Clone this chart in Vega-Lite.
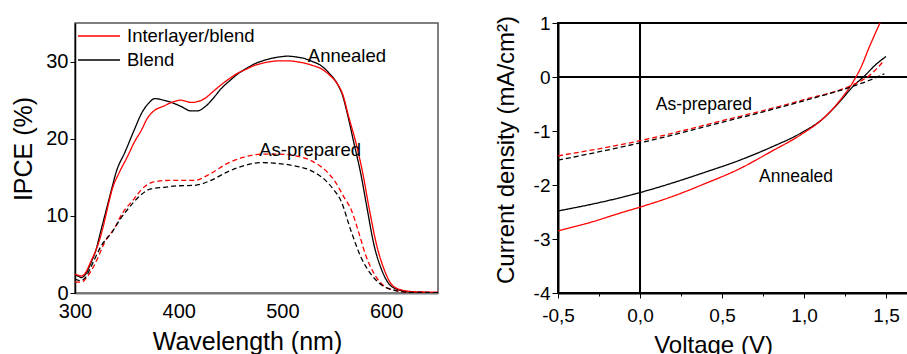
{
  "$schema": "https://vega.github.io/schema/vega-lite/v6.json",
  "autosize": {"type": "pad"},
  "padding": {"left": 11, "top": 13, "right": 0, "bottom": 0},
  "background": "white",
  "config": {
    "font": "Liberation Sans",
    "axis": {"labelColor": "black", "titleColor": "black", "titleFontWeight": "normal", "grid": false, "labelFlush": false, "labelOverlap": false, "tickColor": "black", "domainColor": "black"},
    "text": {"font": "Liberation Sans", "color": "black"}
  },
  "datasets": {
    "ipce": [
      {"wl": 300, "ipce": 2.3, "device": "Blend", "state": "Annealed"},
      {"wl": 303, "ipce": 2.2, "device": "Blend", "state": "Annealed"},
      {"wl": 306, "ipce": 2.0, "device": "Blend", "state": "Annealed"},
      {"wl": 310, "ipce": 2.4, "device": "Blend", "state": "Annealed"},
      {"wl": 315, "ipce": 3.8, "device": "Blend", "state": "Annealed"},
      {"wl": 320, "ipce": 5.5, "device": "Blend", "state": "Annealed"},
      {"wl": 325, "ipce": 8.1, "device": "Blend", "state": "Annealed"},
      {"wl": 330, "ipce": 10.7, "device": "Blend", "state": "Annealed"},
      {"wl": 335, "ipce": 13.3, "device": "Blend", "state": "Annealed"},
      {"wl": 340, "ipce": 15.8, "device": "Blend", "state": "Annealed"},
      {"wl": 348, "ipce": 18.2, "device": "Blend", "state": "Annealed"},
      {"wl": 357, "ipce": 21.1, "device": "Blend", "state": "Annealed"},
      {"wl": 365, "ipce": 23.5, "device": "Blend", "state": "Annealed"},
      {"wl": 371, "ipce": 24.6, "device": "Blend", "state": "Annealed"},
      {"wl": 377, "ipce": 25.2, "device": "Blend", "state": "Annealed"},
      {"wl": 385, "ipce": 25.0, "device": "Blend", "state": "Annealed"},
      {"wl": 393, "ipce": 24.7, "device": "Blend", "state": "Annealed"},
      {"wl": 402, "ipce": 24.2, "device": "Blend", "state": "Annealed"},
      {"wl": 412, "ipce": 23.6, "device": "Blend", "state": "Annealed"},
      {"wl": 418, "ipce": 23.6, "device": "Blend", "state": "Annealed"},
      {"wl": 425, "ipce": 24.1, "device": "Blend", "state": "Annealed"},
      {"wl": 433, "ipce": 25.2, "device": "Blend", "state": "Annealed"},
      {"wl": 441, "ipce": 26.5, "device": "Blend", "state": "Annealed"},
      {"wl": 449, "ipce": 27.5, "device": "Blend", "state": "Annealed"},
      {"wl": 457, "ipce": 28.4, "device": "Blend", "state": "Annealed"},
      {"wl": 465, "ipce": 29.1, "device": "Blend", "state": "Annealed"},
      {"wl": 473, "ipce": 29.7, "device": "Blend", "state": "Annealed"},
      {"wl": 481, "ipce": 30.1, "device": "Blend", "state": "Annealed"},
      {"wl": 489, "ipce": 30.4, "device": "Blend", "state": "Annealed"},
      {"wl": 497, "ipce": 30.6, "device": "Blend", "state": "Annealed"},
      {"wl": 505, "ipce": 30.7, "device": "Blend", "state": "Annealed"},
      {"wl": 513, "ipce": 30.6, "device": "Blend", "state": "Annealed"},
      {"wl": 521, "ipce": 30.4, "device": "Blend", "state": "Annealed"},
      {"wl": 529, "ipce": 30.0, "device": "Blend", "state": "Annealed"},
      {"wl": 537, "ipce": 29.5, "device": "Blend", "state": "Annealed"},
      {"wl": 545, "ipce": 28.5, "device": "Blend", "state": "Annealed"},
      {"wl": 553, "ipce": 27.1, "device": "Blend", "state": "Annealed"},
      {"wl": 558, "ipce": 25.6, "device": "Blend", "state": "Annealed"},
      {"wl": 563, "ipce": 23.0, "device": "Blend", "state": "Annealed"},
      {"wl": 569, "ipce": 19.4, "device": "Blend", "state": "Annealed"},
      {"wl": 575.5, "ipce": 15.5, "device": "Blend", "state": "Annealed"},
      {"wl": 582, "ipce": 10.7, "device": "Blend", "state": "Annealed"},
      {"wl": 588, "ipce": 6.4, "device": "Blend", "state": "Annealed"},
      {"wl": 596, "ipce": 2.9, "device": "Blend", "state": "Annealed"},
      {"wl": 604, "ipce": 1.0, "device": "Blend", "state": "Annealed"},
      {"wl": 614, "ipce": 0.35, "device": "Blend", "state": "Annealed"},
      {"wl": 627, "ipce": 0.1, "device": "Blend", "state": "Annealed"},
      {"wl": 650, "ipce": 0.05, "device": "Blend", "state": "Annealed"},

      {"wl": 300, "ipce": 2.4, "device": "Interlayer/blend", "state": "Annealed"},
      {"wl": 303, "ipce": 2.3, "device": "Interlayer/blend", "state": "Annealed"},
      {"wl": 306, "ipce": 2.2, "device": "Interlayer/blend", "state": "Annealed"},
      {"wl": 310, "ipce": 2.6, "device": "Interlayer/blend", "state": "Annealed"},
      {"wl": 315, "ipce": 4.0, "device": "Interlayer/blend", "state": "Annealed"},
      {"wl": 322, "ipce": 6.2, "device": "Interlayer/blend", "state": "Annealed"},
      {"wl": 327, "ipce": 8.5, "device": "Interlayer/blend", "state": "Annealed"},
      {"wl": 331.5, "ipce": 11.1, "device": "Interlayer/blend", "state": "Annealed"},
      {"wl": 336, "ipce": 13.5, "device": "Interlayer/blend", "state": "Annealed"},
      {"wl": 343, "ipce": 15.7, "device": "Interlayer/blend", "state": "Annealed"},
      {"wl": 351, "ipce": 17.8, "device": "Interlayer/blend", "state": "Annealed"},
      {"wl": 357, "ipce": 19.5, "device": "Interlayer/blend", "state": "Annealed"},
      {"wl": 364, "ipce": 21.1, "device": "Interlayer/blend", "state": "Annealed"},
      {"wl": 370, "ipce": 22.7, "device": "Interlayer/blend", "state": "Annealed"},
      {"wl": 377, "ipce": 23.7, "device": "Interlayer/blend", "state": "Annealed"},
      {"wl": 385, "ipce": 24.2, "device": "Interlayer/blend", "state": "Annealed"},
      {"wl": 393, "ipce": 24.7, "device": "Interlayer/blend", "state": "Annealed"},
      {"wl": 402, "ipce": 25.0, "device": "Interlayer/blend", "state": "Annealed"},
      {"wl": 412, "ipce": 24.7, "device": "Interlayer/blend", "state": "Annealed"},
      {"wl": 418, "ipce": 24.8, "device": "Interlayer/blend", "state": "Annealed"},
      {"wl": 425, "ipce": 25.2, "device": "Interlayer/blend", "state": "Annealed"},
      {"wl": 433, "ipce": 26.1, "device": "Interlayer/blend", "state": "Annealed"},
      {"wl": 441, "ipce": 27.0, "device": "Interlayer/blend", "state": "Annealed"},
      {"wl": 449, "ipce": 27.8, "device": "Interlayer/blend", "state": "Annealed"},
      {"wl": 457, "ipce": 28.5, "device": "Interlayer/blend", "state": "Annealed"},
      {"wl": 465, "ipce": 29.0, "device": "Interlayer/blend", "state": "Annealed"},
      {"wl": 473, "ipce": 29.5, "device": "Interlayer/blend", "state": "Annealed"},
      {"wl": 481, "ipce": 29.8, "device": "Interlayer/blend", "state": "Annealed"},
      {"wl": 489, "ipce": 30.0, "device": "Interlayer/blend", "state": "Annealed"},
      {"wl": 497, "ipce": 30.1, "device": "Interlayer/blend", "state": "Annealed"},
      {"wl": 505, "ipce": 30.1, "device": "Interlayer/blend", "state": "Annealed"},
      {"wl": 513, "ipce": 30.0, "device": "Interlayer/blend", "state": "Annealed"},
      {"wl": 521, "ipce": 29.8, "device": "Interlayer/blend", "state": "Annealed"},
      {"wl": 529, "ipce": 29.5, "device": "Interlayer/blend", "state": "Annealed"},
      {"wl": 537, "ipce": 29.1, "device": "Interlayer/blend", "state": "Annealed"},
      {"wl": 545, "ipce": 28.3, "device": "Interlayer/blend", "state": "Annealed"},
      {"wl": 553, "ipce": 27.1, "device": "Interlayer/blend", "state": "Annealed"},
      {"wl": 558, "ipce": 25.8, "device": "Interlayer/blend", "state": "Annealed"},
      {"wl": 564, "ipce": 22.8, "device": "Interlayer/blend", "state": "Annealed"},
      {"wl": 571, "ipce": 19.4, "device": "Interlayer/blend", "state": "Annealed"},
      {"wl": 577.5, "ipce": 15.5, "device": "Interlayer/blend", "state": "Annealed"},
      {"wl": 584, "ipce": 10.7, "device": "Interlayer/blend", "state": "Annealed"},
      {"wl": 590.5, "ipce": 6.4, "device": "Interlayer/blend", "state": "Annealed"},
      {"wl": 598.5, "ipce": 2.9, "device": "Interlayer/blend", "state": "Annealed"},
      {"wl": 606, "ipce": 1.0, "device": "Interlayer/blend", "state": "Annealed"},
      {"wl": 616, "ipce": 0.35, "device": "Interlayer/blend", "state": "Annealed"},
      {"wl": 630, "ipce": 0.15, "device": "Interlayer/blend", "state": "Annealed"},
      {"wl": 650, "ipce": 0.1, "device": "Interlayer/blend", "state": "Annealed"},

      {"wl": 300, "ipce": 1.4, "device": "Interlayer/blend", "state": "As-prepared"},
      {"wl": 306, "ipce": 1.4, "device": "Interlayer/blend", "state": "As-prepared"},
      {"wl": 312.8, "ipce": 2.3, "device": "Interlayer/blend", "state": "As-prepared"},
      {"wl": 322.5, "ipce": 4.7, "device": "Interlayer/blend", "state": "As-prepared"},
      {"wl": 328.3, "ipce": 6.5, "device": "Interlayer/blend", "state": "As-prepared"},
      {"wl": 338.5, "ipce": 8.5, "device": "Interlayer/blend", "state": "As-prepared"},
      {"wl": 345, "ipce": 10.2, "device": "Interlayer/blend", "state": "As-prepared"},
      {"wl": 357, "ipce": 12.2, "device": "Interlayer/blend", "state": "As-prepared"},
      {"wl": 364, "ipce": 13.4, "device": "Interlayer/blend", "state": "As-prepared"},
      {"wl": 376, "ipce": 14.4, "device": "Interlayer/blend", "state": "As-prepared"},
      {"wl": 391, "ipce": 14.6, "device": "Interlayer/blend", "state": "As-prepared"},
      {"wl": 415, "ipce": 14.6, "device": "Interlayer/blend", "state": "As-prepared"},
      {"wl": 431, "ipce": 15.5, "device": "Interlayer/blend", "state": "As-prepared"},
      {"wl": 447, "ipce": 16.8, "device": "Interlayer/blend", "state": "As-prepared"},
      {"wl": 463, "ipce": 17.6, "device": "Interlayer/blend", "state": "As-prepared"},
      {"wl": 479, "ipce": 18.0, "device": "Interlayer/blend", "state": "As-prepared"},
      {"wl": 495, "ipce": 18.0, "device": "Interlayer/blend", "state": "As-prepared"},
      {"wl": 511, "ipce": 17.8, "device": "Interlayer/blend", "state": "As-prepared"},
      {"wl": 527, "ipce": 17.2, "device": "Interlayer/blend", "state": "As-prepared"},
      {"wl": 543, "ipce": 15.7, "device": "Interlayer/blend", "state": "As-prepared"},
      {"wl": 550, "ipce": 14.6, "device": "Interlayer/blend", "state": "As-prepared"},
      {"wl": 559.5, "ipce": 12.4, "device": "Interlayer/blend", "state": "As-prepared"},
      {"wl": 566.6, "ipce": 10.7, "device": "Interlayer/blend", "state": "As-prepared"},
      {"wl": 573, "ipce": 8.1, "device": "Interlayer/blend", "state": "As-prepared"},
      {"wl": 580.3, "ipce": 4.9, "device": "Interlayer/blend", "state": "As-prepared"},
      {"wl": 587.6, "ipce": 2.7, "device": "Interlayer/blend", "state": "As-prepared"},
      {"wl": 599.6, "ipce": 0.75, "device": "Interlayer/blend", "state": "As-prepared"},
      {"wl": 610, "ipce": 0.3, "device": "Interlayer/blend", "state": "As-prepared"},
      {"wl": 622, "ipce": 0.1, "device": "Interlayer/blend", "state": "As-prepared"},
      {"wl": 650, "ipce": 0.05, "device": "Interlayer/blend", "state": "As-prepared"},

      {"wl": 300, "ipce": 1.8, "device": "Blend", "state": "As-prepared"},
      {"wl": 305, "ipce": 1.6, "device": "Blend", "state": "As-prepared"},
      {"wl": 310.6, "ipce": 2.1, "device": "Blend", "state": "As-prepared"},
      {"wl": 315.4, "ipce": 3.4, "device": "Blend", "state": "As-prepared"},
      {"wl": 325.7, "ipce": 6.2, "device": "Blend", "state": "As-prepared"},
      {"wl": 336.3, "ipce": 8.0, "device": "Blend", "state": "As-prepared"},
      {"wl": 342.7, "ipce": 9.4, "device": "Blend", "state": "As-prepared"},
      {"wl": 352.3, "ipce": 11.1, "device": "Blend", "state": "As-prepared"},
      {"wl": 361, "ipce": 12.4, "device": "Blend", "state": "As-prepared"},
      {"wl": 373, "ipce": 13.5, "device": "Blend", "state": "As-prepared"},
      {"wl": 386, "ipce": 13.7, "device": "Blend", "state": "As-prepared"},
      {"wl": 400, "ipce": 13.9, "device": "Blend", "state": "As-prepared"},
      {"wl": 415, "ipce": 13.95, "device": "Blend", "state": "As-prepared"},
      {"wl": 431, "ipce": 14.6, "device": "Blend", "state": "As-prepared"},
      {"wl": 447, "ipce": 15.7, "device": "Blend", "state": "As-prepared"},
      {"wl": 463, "ipce": 16.5, "device": "Blend", "state": "As-prepared"},
      {"wl": 479, "ipce": 16.9, "device": "Blend", "state": "As-prepared"},
      {"wl": 495, "ipce": 16.8, "device": "Blend", "state": "As-prepared"},
      {"wl": 511, "ipce": 16.5, "device": "Blend", "state": "As-prepared"},
      {"wl": 527, "ipce": 15.9, "device": "Blend", "state": "As-prepared"},
      {"wl": 543, "ipce": 14.4, "device": "Blend", "state": "As-prepared"},
      {"wl": 550, "ipce": 13.3, "device": "Blend", "state": "As-prepared"},
      {"wl": 556.3, "ipce": 12.0, "device": "Blend", "state": "As-prepared"},
      {"wl": 566, "ipce": 8.1, "device": "Blend", "state": "As-prepared"},
      {"wl": 575.5, "ipce": 4.7, "device": "Blend", "state": "As-prepared"},
      {"wl": 585, "ipce": 2.5, "device": "Blend", "state": "As-prepared"},
      {"wl": 596, "ipce": 1.0, "device": "Blend", "state": "As-prepared"},
      {"wl": 608, "ipce": 0.35, "device": "Blend", "state": "As-prepared"},
      {"wl": 620, "ipce": 0.1, "device": "Blend", "state": "As-prepared"},
      {"wl": 650, "ipce": 0.05, "device": "Blend", "state": "As-prepared"}
    ],
    "ipceNotes": [
      {"wl": 524.5, "ipce": 30.7, "label": "Annealed"},
      {"wl": 477.6, "ipce": 18.5, "label": "As-prepared"}
    ],
    "jv": [
      {"v": -0.5, "j": -2.48, "device": "Blend", "state": "Annealed"},
      {"v": -0.3, "j": -2.36, "device": "Blend", "state": "Annealed"},
      {"v": -0.1, "j": -2.22, "device": "Blend", "state": "Annealed"},
      {"v": 0.0, "j": -2.14, "device": "Blend", "state": "Annealed"},
      {"v": 0.2, "j": -1.96, "device": "Blend", "state": "Annealed"},
      {"v": 0.4, "j": -1.76, "device": "Blend", "state": "Annealed"},
      {"v": 0.6, "j": -1.55, "device": "Blend", "state": "Annealed"},
      {"v": 0.8, "j": -1.30, "device": "Blend", "state": "Annealed"},
      {"v": 0.98, "j": -1.04, "device": "Blend", "state": "Annealed"},
      {"v": 1.12, "j": -0.76, "device": "Blend", "state": "Annealed"},
      {"v": 1.22, "j": -0.45, "device": "Blend", "state": "Annealed"},
      {"v": 1.30, "j": -0.17, "device": "Blend", "state": "Annealed"},
      {"v": 1.376, "j": 0.04, "device": "Blend", "state": "Annealed"},
      {"v": 1.427, "j": 0.20, "device": "Blend", "state": "Annealed"},
      {"v": 1.5, "j": 0.38, "device": "Blend", "state": "Annealed"},

      {"v": -0.5, "j": -2.85, "device": "Interlayer/blend", "state": "Annealed"},
      {"v": -0.3, "j": -2.69, "device": "Interlayer/blend", "state": "Annealed"},
      {"v": -0.1, "j": -2.50, "device": "Interlayer/blend", "state": "Annealed"},
      {"v": 0.0, "j": -2.41, "device": "Interlayer/blend", "state": "Annealed"},
      {"v": 0.2, "j": -2.21, "device": "Interlayer/blend", "state": "Annealed"},
      {"v": 0.4, "j": -1.97, "device": "Interlayer/blend", "state": "Annealed"},
      {"v": 0.6, "j": -1.71, "device": "Interlayer/blend", "state": "Annealed"},
      {"v": 0.8, "j": -1.38, "device": "Interlayer/blend", "state": "Annealed"},
      {"v": 0.98, "j": -1.07, "device": "Interlayer/blend", "state": "Annealed"},
      {"v": 1.12, "j": -0.76, "device": "Interlayer/blend", "state": "Annealed"},
      {"v": 1.22, "j": -0.43, "device": "Interlayer/blend", "state": "Annealed"},
      {"v": 1.295, "j": -0.11, "device": "Interlayer/blend", "state": "Annealed"},
      {"v": 1.346, "j": 0.17, "device": "Interlayer/blend", "state": "Annealed"},
      {"v": 1.396, "j": 0.54, "device": "Interlayer/blend", "state": "Annealed"},
      {"v": 1.463, "j": 1.0, "device": "Interlayer/blend", "state": "Annealed"},

      {"v": -0.5, "j": -1.46, "device": "Interlayer/blend", "state": "As-prepared"},
      {"v": 0.0, "j": -1.18, "device": "Interlayer/blend", "state": "As-prepared"},
      {"v": 0.5, "j": -0.81, "device": "Interlayer/blend", "state": "As-prepared"},
      {"v": 1.0, "j": -0.42, "device": "Interlayer/blend", "state": "As-prepared"},
      {"v": 1.3, "j": -0.14, "device": "Interlayer/blend", "state": "As-prepared"},
      {"v": 1.4, "j": 0.03, "device": "Interlayer/blend", "state": "As-prepared"},
      {"v": 1.484, "j": 0.29, "device": "Interlayer/blend", "state": "As-prepared"},

      {"v": -0.5, "j": -1.54, "device": "Blend", "state": "As-prepared"},
      {"v": 0.0, "j": -1.22, "device": "Blend", "state": "As-prepared"},
      {"v": 0.5, "j": -0.84, "device": "Blend", "state": "As-prepared"},
      {"v": 1.0, "j": -0.44, "device": "Blend", "state": "As-prepared"},
      {"v": 1.3, "j": -0.17, "device": "Blend", "state": "As-prepared"},
      {"v": 1.4, "j": -0.06, "device": "Blend", "state": "As-prepared"},
      {"v": 1.49, "j": 0.06, "device": "Blend", "state": "As-prepared"}
    ],
    "jvNotes": [
      {"v": 0.096, "j": -0.524, "label": "As-prepared"},
      {"v": 0.726, "j": -1.85, "label": "Annealed"}
    ],
    "zero": [
      {"v": 0, "j": 0}
    ]
  },
  "bounds": "flush",
  "spacing": 120,
  "resolve": {"scale": {"color": "independent", "strokeDash": "independent"}},
  "hconcat": [
    {
      "width": 363,
      "height": 270,
      "view": {"stroke": "#555", "strokeWidth": 1.5},
      "layer": [
        {
          "data": {"name": "ipce"},
          "mark": {"type": "line", "strokeWidth": 1.3, "interpolate": "monotone", "clip": true},
          "encoding": {
            "x": {"field": "wl", "type": "quantitative", "scale": {"domain": [300, 650], "nice": false, "zero": false},
              "axis": {"title": "Wavelength (nm)", "values": [300, 400, 500, 600], "tickSize": 0, "labelPadding": 8, "labelFontSize": 20, "titleFontSize": 25, "titlePadding": 8, "titleX": 172, "domainColor": "#777", "domainWidth": 2}},
            "y": {"field": "ipce", "type": "quantitative", "scale": {"domain": [0, 35], "nice": false},
              "axis": {"title": "IPCE (%)", "values": [0, 10, 20, 30], "tickSize": 5, "labelPadding": 2, "labelFontSize": 20, "titleFontSize": 25, "titlePadding": 9, "titleY": 125.5, "domainWidth": 1.5}},
            "color": {"field": "device", "type": "nominal",
              "scale": {"domain": ["Interlayer/blend", "Blend"], "range": ["#ff0000", "#000000"]},
              "legend": {"orient": "none", "legendX": 2, "legendY": 1, "title": null, "symbolType": "stroke", "symbolSize": 1764, "symbolStrokeWidth": 1.5, "labelFontSize": 18.5, "labelOffset": 6, "clipHeight": 24, "rowPadding": 0, "labelColor": "black", "padding": 0, "labelLimit": 300}},
            "strokeDash": {"field": "state", "type": "nominal",
              "scale": {"domain": ["Annealed", "As-prepared"], "range": [[1, 0], [5, 3]]}, "legend": null}
          }
        },
        {
          "data": {"name": "ipceNotes"},
          "mark": {"type": "text", "align": "left", "baseline": "middle", "fontSize": 18.5},
          "encoding": {
            "x": {"field": "wl", "type": "quantitative"},
            "y": {"field": "ipce", "type": "quantitative"},
            "text": {"field": "label"}
          }
        }
      ]
    },
    {
      "width": 350,
      "height": 270,
      "view": {"stroke": "black", "strokeWidth": 2},
      "layer": [
        {
          "data": {"name": "zero"},
          "mark": {"type": "rule", "color": "black", "strokeWidth": 2},
          "encoding": {"x": {"field": "v", "type": "quantitative"}}
        },
        {
          "data": {"name": "zero"},
          "mark": {"type": "rule", "color": "black", "strokeWidth": 2},
          "encoding": {"y": {"field": "j", "type": "quantitative"}}
        },
        {
          "data": {"name": "jv"},
          "mark": {"type": "line", "strokeWidth": 1.3, "interpolate": "monotone", "clip": true},
          "encoding": {
            "x": {"field": "v", "type": "quantitative", "scale": {"domain": [-0.5, 1.634], "nice": false, "zero": false},
              "axis": {"title": "Voltage (V)", "values": [-0.5, -0.25, 0, 0.25, 0.5, 0.75, 1, 1.25, 1.5],
                "labelExpr": "datum.value % 0.5 !== 0 ? '' : replace(replace(format(datum.value, '.1f'), '.', ','), '\u2212', '-')",
                "tickSize": {"condition": {"test": "datum.value % 0.5 !== 0", "value": 3}, "value": 5},
                "labelPadding": 8, "labelFontSize": 19, "titleFontSize": 24, "titlePadding": 8, "titleX": 155, "domainWidth": 2}},
            "y": {"field": "j", "type": "quantitative", "scale": {"domain": [-4, 1], "nice": false},
              "axis": {"title": "Current density (mA/cm²)", "values": [-4, -3.5, -3, -2.5, -2, -1.5, -1, -0.5, 0, 0.5, 1],
                "labelExpr": "datum.value % 1 !== 0 ? '' : replace(format(datum.value, 'd'), '\u2212', '-')",
                "tickSize": {"condition": {"test": "datum.value % 1 !== 0", "value": 3}, "value": 6},
                "labelPadding": 2, "labelFontSize": 19, "titleFontSize": 24, "titlePadding": 15, "titleY": 126.5, "domainWidth": 2}},
            "color": {"field": "device", "type": "nominal",
              "scale": {"domain": ["Interlayer/blend", "Blend"], "range": ["#ff0000", "#000000"]}, "legend": null},
            "strokeDash": {"field": "state", "type": "nominal",
              "scale": {"domain": ["Annealed", "As-prepared"], "range": [[1, 0], [5, 3]]}, "legend": null}
          }
        },
        {
          "data": {"name": "jvNotes"},
          "mark": {"type": "text", "align": "left", "baseline": "middle", "fontSize": 17.5},
          "encoding": {
            "x": {"field": "v", "type": "quantitative"},
            "y": {"field": "j", "type": "quantitative"},
            "text": {"field": "label"}
          }
        }
      ]
    }
  ]
}
